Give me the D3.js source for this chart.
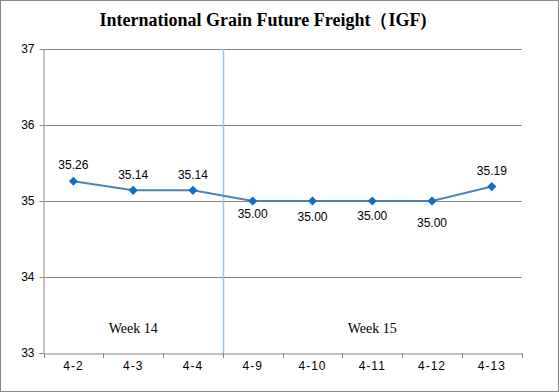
<!DOCTYPE html>
<html><head><meta charset="utf-8">
<script src="https://cdn.jsdelivr.net/npm/d3@7"></script>
<style>body{margin:0;background:#fff}svg{display:block}</style>
</head><body>
<script>
const categories = ["4-2","4-3","4-4","4-9","4-10","4-11","4-12","4-13"];
const values = [35.26,35.14,35.14,35.00,35.00,35.00,35.00,35.19];
const yTicks = [33,34,35,36,37];
const labelDy = [-16,-15,-15,13,16,15,22,-16];
const weeks = [{name:"Week 14", from:"4-2", to:"4-4"},{name:"Week 15", from:"4-9", to:"4-13"}];
const title = "International Grain Future Freight（IGF)";

const W=559,H=392;
const svg=d3.select("body").append("svg").attr("width",W).attr("height",H);
svg.append("rect").attr("x",0.5).attr("y",0.5).attr("width",W-1).attr("height",H-1).attr("fill","#fff").attr("stroke","#868686");

const x=d3.scaleBand().domain(categories).range([43.5,521.7]);
const y=d3.scaleLinear().domain([33,37]).range([353,49]);

svg.append("text").attr("x",263).attr("y",26).attr("text-anchor","middle")
  .attr("font-family","'Liberation Serif','Times New Roman',serif").attr("font-weight","bold").attr("font-size",18).text(title);

// grid
svg.append("g").selectAll("line").data(yTicks.slice(1)).join("line")
  .attr("x1",43.5).attr("x2",521.7).attr("y1",d=>Math.round(y(d))+0.5).attr("y2",d=>Math.round(y(d))+0.5)
  .attr("stroke","#868686").attr("stroke-width",1);

// y axis
const ya=svg.append("g").attr("transform","translate(43.5,0)")
  .call(d3.axisLeft(y).tickValues(yTicks).tickSize(4).tickSizeOuter(0).tickFormat(d3.format("d")));
ya.selectAll("path,line").attr("stroke","#868686");
ya.selectAll("text").attr("font-family","'Liberation Sans',Arial,sans-serif").attr("font-size",12).attr("fill","#000").attr("x",-9);

// x axis
const xa=svg.append("g").attr("transform","translate(0,353.5)")
  .call(d3.axisBottom(x).tickSize(0).tickSizeOuter(0));
xa.selectAll("path").attr("stroke","#868686");
xa.selectAll("text").attr("font-family","'Liberation Sans',Arial,sans-serif").attr("font-size",12).attr("fill","#000").attr("dy","1.1em").attr("letter-spacing","1px");
const edges=categories.map(c=>x(c)).concat([x.range()[1]]);
svg.append("g").selectAll("line").data(edges).join("line")
  .attr("x1",d=>Math.round(d)+0.5).attr("x2",d=>Math.round(d)+0.5).attr("y1",353).attr("y2",358)
  .attr("stroke","#868686");

// week separator
const sep=x(weeks[1].from);
svg.append("line").attr("x1",Math.round(sep)+0.5).attr("x2",Math.round(sep)+0.5).attr("y1",49).attr("y2",353)
  .attr("stroke","#9dc3e6").attr("stroke-width",1.5);

// week labels
svg.append("g").selectAll("text").data(weeks).join("text")
  .attr("x",d=>(x(d.from)+x(d.to)+x.bandwidth())/2).attr("y",333).attr("text-anchor","middle")
  .attr("font-family","'Liberation Serif','Times New Roman',serif").attr("font-size",14).text(d=>d.name);

// line
const cx=c=>x(c)+x.bandwidth()/2;
svg.append("path").datum(values).attr("fill","none").attr("stroke","#4f81bd").attr("stroke-width",2)
  .attr("d",d3.line().x((d,i)=>cx(categories[i])).y(d=>y(d)));

svg.append("g").selectAll("path").data(values).join("path")
  .attr("d",d3.symbol(d3.symbolSquare,42))
  .attr("transform",(d,i)=>`translate(${cx(categories[i])},${y(d)}) rotate(45)`)
  .attr("fill","#0f6fc6");

svg.append("g").selectAll("text").data(values).join("text")
  .attr("x",(d,i)=>cx(categories[i])).attr("y",(d,i)=>y(d)+labelDy[i]+4).attr("text-anchor","middle")
  .attr("font-family","'Liberation Sans',Arial,sans-serif").attr("font-size",12).attr("fill","#000")
  .text(d=>d.toFixed(2));
</script>
</body></html>
